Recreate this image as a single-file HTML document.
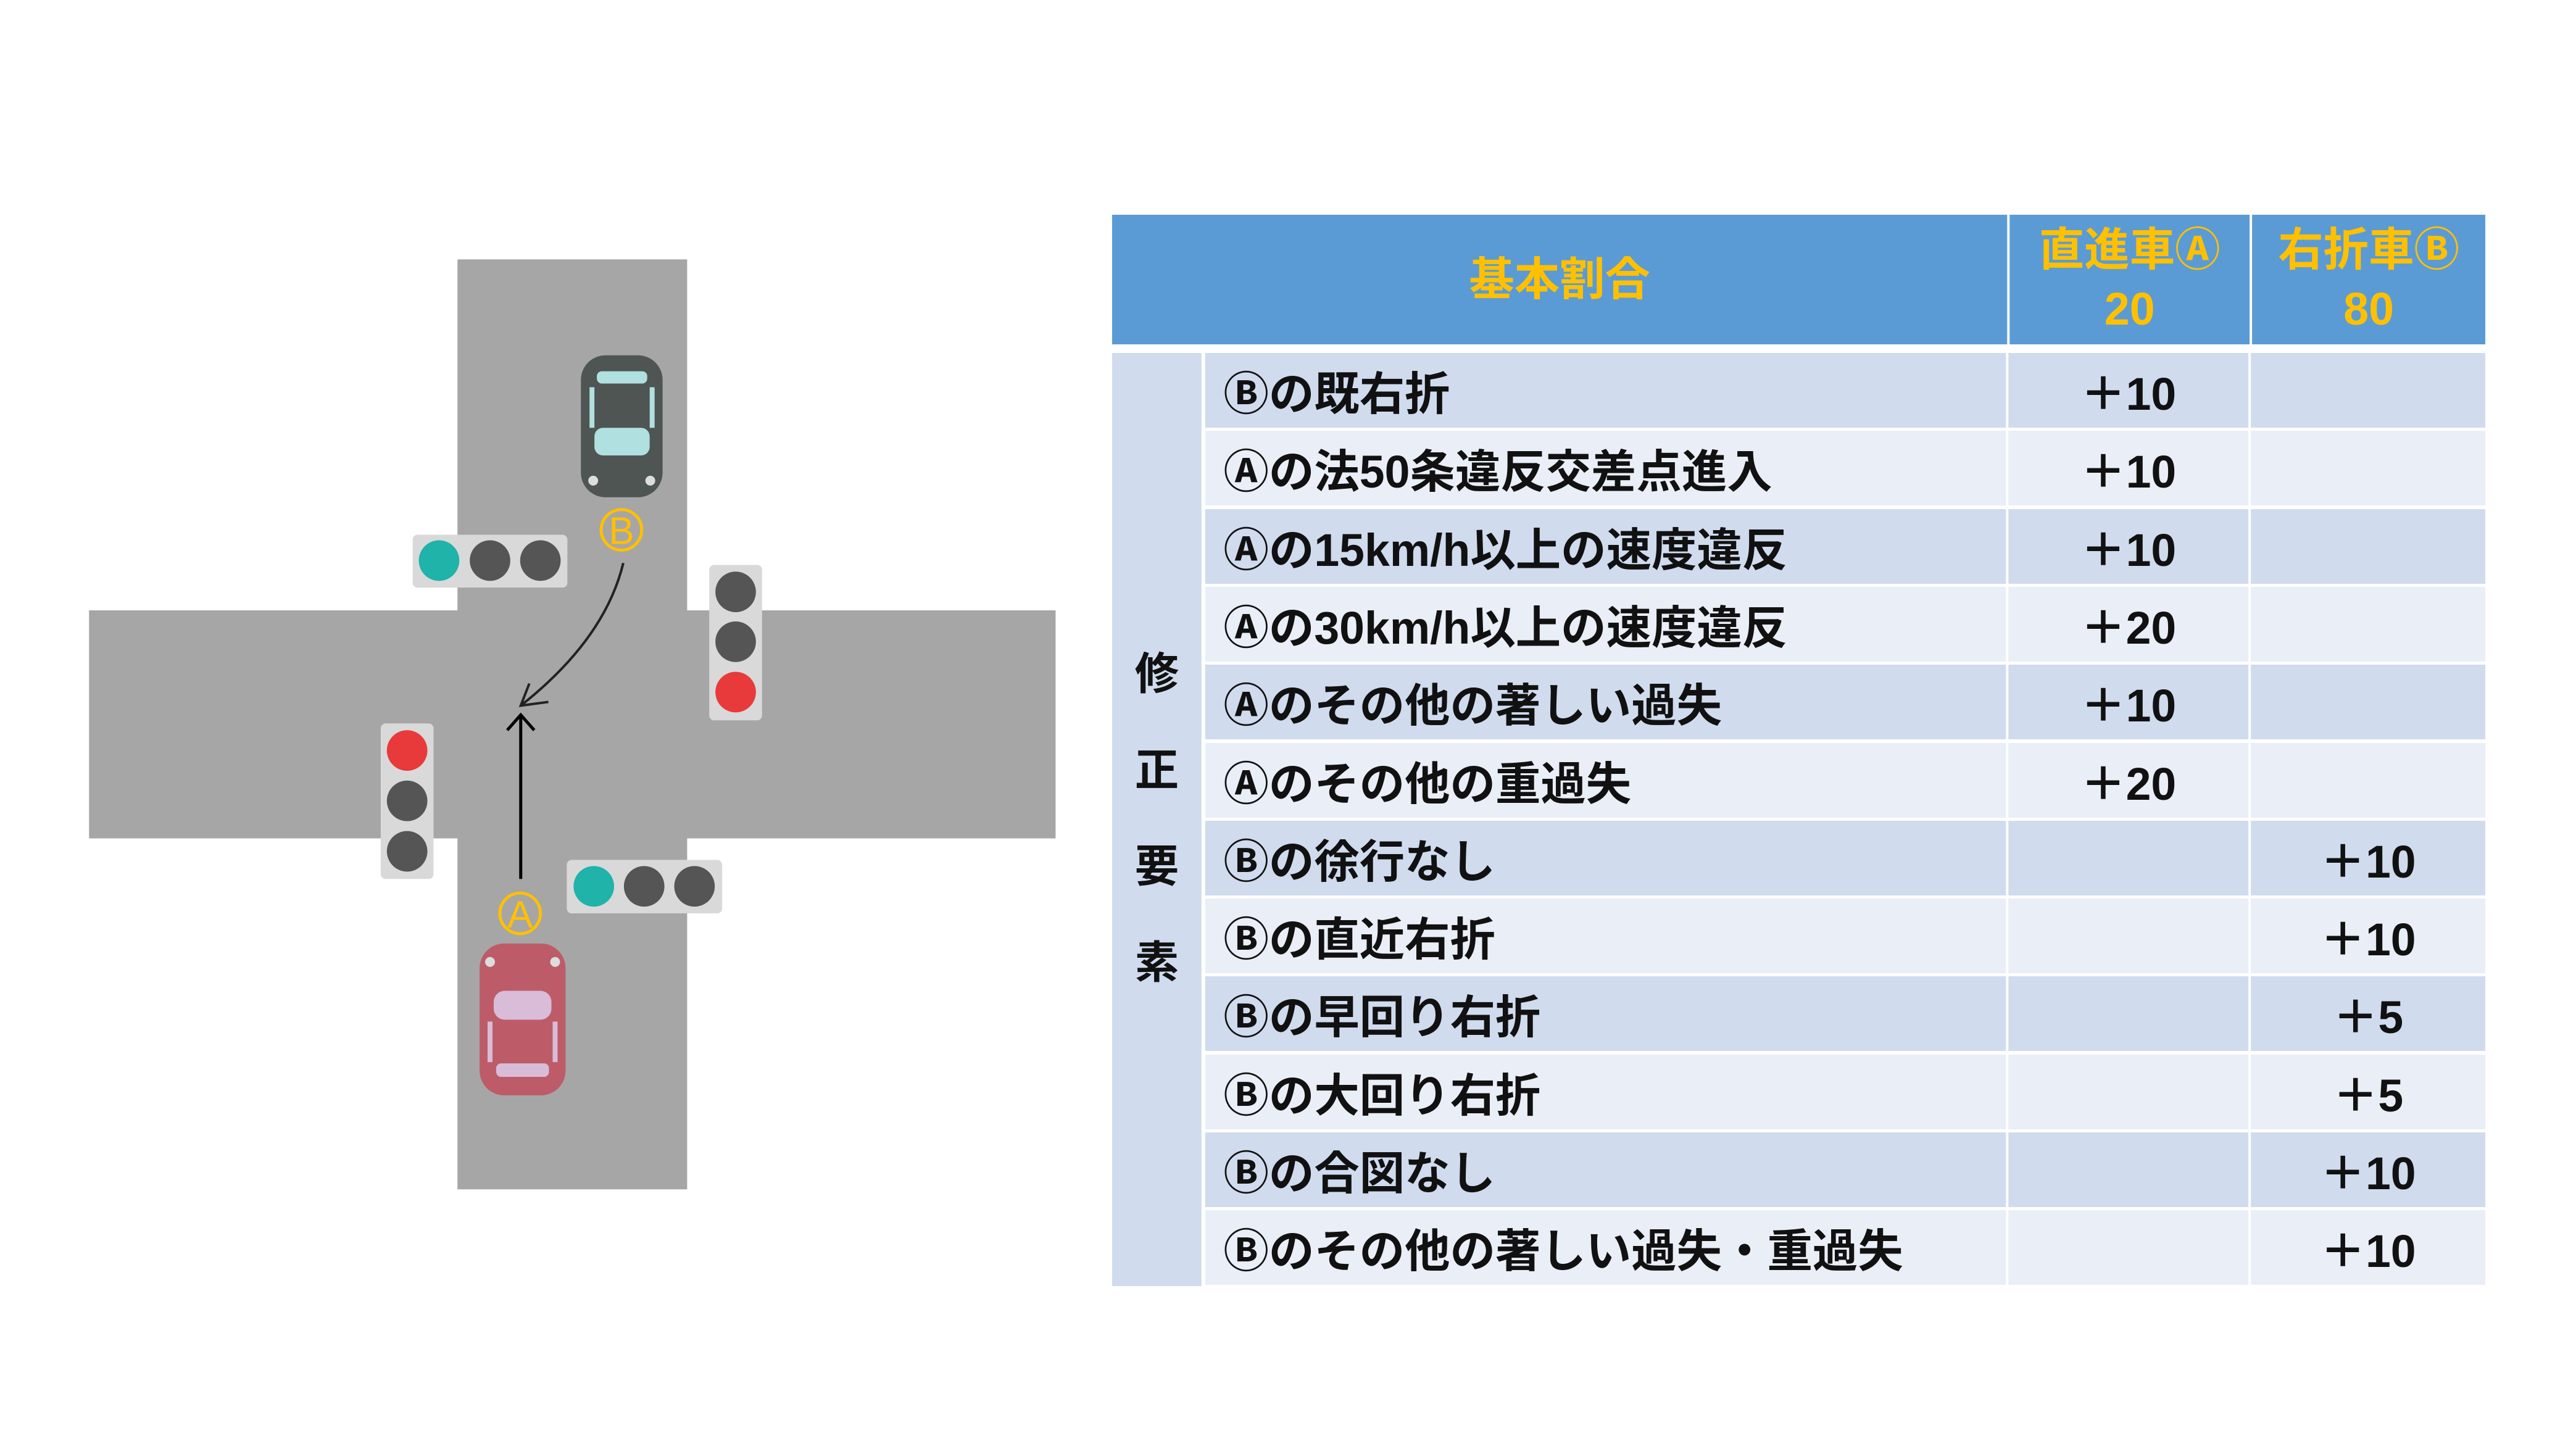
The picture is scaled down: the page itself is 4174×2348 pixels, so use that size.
<!DOCTYPE html>
<html><head><meta charset="utf-8"><style>
body{margin:0;width:4174px;height:2348px;background:#fff;position:relative;overflow:hidden;font-family:"Liberation Sans","Noto Sans CJK JP",sans-serif;}
.a{position:absolute;box-sizing:border-box;}
.c{display:flex;align-items:center;justify-content:center;}
.cell{position:absolute;box-sizing:border-box;height:121px;display:flex;align-items:center;font-size:74px;font-weight:bold;color:#111;}
.t{left:1954px;width:1308px;padding-left:30px;}
.v1{left:3266px;width:392px;justify-content:center;}
.v2{left:3662px;width:383px;justify-content:center;}
.d{background:#D0DBEE;}
.l{background:#E9EEF7;}
.h{color:#FFC000;font-weight:bold;font-size:74px;text-align:center;line-height:96px;}
#tbl{position:absolute;left:0;top:0;width:4174px;height:2348px;transform:scaleX(0.992);transform-origin:1802px 0;}
</style></head><body>
<svg class="a" style="left:0;top:0;transform:scale(0.995,0.996);transform-origin:0 0" width="1800" height="2348" viewBox="0 0 1800 2348">
<rect x="745" y="422" width="374" height="1513" fill="#a6a6a6"/>
<rect x="145" y="993" width="1574" height="371" fill="#a6a6a6"/>
<rect x="672" y="870" width="252" height="86" rx="8" fill="#d9d9d9"/>
<circle cx="715" cy="912" r="33" fill="#1fb3aa"/><circle cx="798" cy="912" r="33" fill="#555"/><circle cx="880" cy="912" r="33" fill="#555"/>
<rect x="1155" y="919" width="86" height="253" rx="8" fill="#d9d9d9"/>
<circle cx="1198" cy="963" r="33" fill="#555"/><circle cx="1198" cy="1044" r="33" fill="#555"/><circle cx="1198" cy="1126" r="33" fill="#e83a3a"/>
<rect x="620" y="1177" width="86" height="253" rx="8" fill="#d9d9d9"/>
<circle cx="663" cy="1221" r="33" fill="#e83a3a"/><circle cx="663" cy="1303" r="33" fill="#555"/><circle cx="663" cy="1385" r="33" fill="#555"/>
<rect x="923" y="1399" width="253" height="87" rx="8" fill="#d9d9d9"/>
<circle cx="967" cy="1442" r="33" fill="#1fb3aa"/><circle cx="1049" cy="1442" r="33" fill="#555"/><circle cx="1131" cy="1442" r="33" fill="#555"/>
<rect x="946" y="578" width="133" height="231" rx="40" fill="#4f5553"/>
<rect x="972" y="604" width="82" height="20" rx="8" fill="#b0e0e0"/>
<rect x="968" y="696" width="90" height="45" rx="14" fill="#b0e0e0"/>
<rect x="960" y="630" width="8" height="66" fill="#b0e0e0"/><rect x="1058" y="630" width="8" height="66" fill="#b0e0e0"/>
<circle cx="966" cy="782" r="8" fill="#ddd"/><circle cx="1059" cy="782" r="8" fill="#ddd"/>
<rect x="781" y="1535" width="140" height="247" rx="40" fill="#bd5c68"/>
<rect x="804" y="1612" width="94" height="47" rx="18" fill="#d8bcd8"/>
<rect x="808" y="1730" width="86" height="22" rx="8" fill="#d8bcd8"/>
<rect x="794" y="1662" width="8" height="66" fill="#d8bcd8"/><rect x="900" y="1662" width="8" height="66" fill="#d8bcd8"/>
<circle cx="798" cy="1565" r="8" fill="#ddd"/><circle cx="904" cy="1565" r="8" fill="#ddd"/>
<circle cx="1012" cy="862" r="33" fill="none" stroke="#FFC000" stroke-width="5"/>
<text x="1012" y="885" font-size="62" fill="#FFC000" text-anchor="middle" font-family="Liberation Sans,sans-serif">B</text>
<circle cx="847" cy="1486" r="33" fill="none" stroke="#FFC000" stroke-width="5"/>
<text x="847" y="1509" font-size="62" fill="#FFC000" text-anchor="middle" font-family="Liberation Sans,sans-serif">A</text>
<line x1="848" y1="1430" x2="848" y2="1163" stroke="#000" stroke-width="5"/>
<polyline points="826,1188 848,1163 870,1188" fill="none" stroke="#000" stroke-width="5"/>
<path d="M1015 916 Q985 1040 848 1148" fill="none" stroke="#222" stroke-width="4"/>
<polyline points="862,1112 848,1148 893,1142" fill="none" stroke="#222" stroke-width="4"/>
</svg>
<div id="tbl">
<div class="a c h" style="left:1802px;top:348px;width:1462px;height:210px;background:#5B9BD5;">基本割合</div>
<div class="a c h" style="left:3268px;top:348px;width:392px;height:210px;background:#5B9BD5;">直進車Ⓐ<br>20</div>
<div class="a c h" style="left:3664px;top:348px;width:381px;height:210px;background:#5B9BD5;">右折車Ⓑ<br>80</div>
<div class="a" style="left:1802px;top:572px;width:146px;height:1512px;background:#D0DBEE;"></div>
<div class="a" style="left:1802px;top:1015px;width:146px;font-size:72px;font-weight:bold;text-align:center;line-height:156px;color:#111;">修<br>正<br>要<br>素</div>

<div class="cell t d" style="top:572px">Ⓑの既右折</div><div class="cell v1 d" style="top:572px">＋10</div><div class="cell v2 d" style="top:572px"></div>
<div class="cell t l" style="top:698px">Ⓐの法50条違反交差点進入</div><div class="cell v1 l" style="top:698px">＋10</div><div class="cell v2 l" style="top:698px"></div>
<div class="cell t d" style="top:825px">Ⓐの15km/h以上の速度違反</div><div class="cell v1 d" style="top:825px">＋10</div><div class="cell v2 d" style="top:825px"></div>
<div class="cell t l" style="top:951px">Ⓐの30km/h以上の速度違反</div><div class="cell v1 l" style="top:951px">＋20</div><div class="cell v2 l" style="top:951px"></div>
<div class="cell t d" style="top:1077px">Ⓐのその他の著しい過失</div><div class="cell v1 d" style="top:1077px">＋10</div><div class="cell v2 d" style="top:1077px"></div>
<div class="cell t l" style="top:1204px">Ⓐのその他の重過失</div><div class="cell v1 l" style="top:1204px">＋20</div><div class="cell v2 l" style="top:1204px"></div>
<div class="cell t d" style="top:1330px">Ⓑの徐行なし</div><div class="cell v1 d" style="top:1330px"></div><div class="cell v2 d" style="top:1330px">＋10</div>
<div class="cell t l" style="top:1456px">Ⓑの直近右折</div><div class="cell v1 l" style="top:1456px"></div><div class="cell v2 l" style="top:1456px">＋10</div>
<div class="cell t d" style="top:1582px">Ⓑの早回り右折</div><div class="cell v1 d" style="top:1582px"></div><div class="cell v2 d" style="top:1582px">＋5</div>
<div class="cell t l" style="top:1709px">Ⓑの大回り右折</div><div class="cell v1 l" style="top:1709px"></div><div class="cell v2 l" style="top:1709px">＋5</div>
<div class="cell t d" style="top:1835px">Ⓑの合図なし</div><div class="cell v1 d" style="top:1835px"></div><div class="cell v2 d" style="top:1835px">＋10</div>
<div class="cell t l" style="top:1961px">Ⓑのその他の著しい過失・重過失</div><div class="cell v1 l" style="top:1961px"></div><div class="cell v2 l" style="top:1961px">＋10</div>
</div>
</body></html>
